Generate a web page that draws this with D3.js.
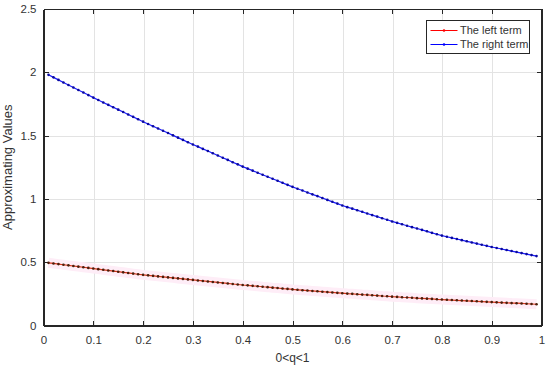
<!DOCTYPE html>
<html>
<head>
<meta charset="utf-8">
<title>Approximating Values</title>
<script src="https://cdn.jsdelivr.net/npm/d3@7/dist/d3.min.js"></script>
<style>
body { margin: 0; background: #fff; }
text { font-family: "Liberation Sans", Arial, sans-serif; fill: #333; }
.axis path, .axis line { stroke: #262626; shape-rendering: crispEdges; }
.grid line { stroke: #e3e3e3; shape-rendering: crispEdges; }
</style>
</head>
<body>
<script>

// q values 0.01 .. 0.99
var qValues = d3.range(1, 100).map(function(i) { return i / 100; });

var leftTerm = [
  0.495,0.490,0.485,0.480,0.475,0.470,0.465,0.460,0.455,0.450,
  0.445,0.440,0.435,0.430,0.425,0.420,0.415,0.410,0.405,0.400,
  0.396,0.392,0.388,0.384,0.380,0.376,0.372,0.368,0.364,0.360,
  0.356,0.352,0.348,0.344,0.340,0.336,0.332,0.328,0.324,0.320,
  0.317,0.313,0.310,0.306,0.303,0.299,0.296,0.292,0.289,0.285,
  0.282,0.279,0.276,0.273,0.270,0.267,0.264,0.261,0.258,0.255,
  0.252,0.250,0.247,0.244,0.242,0.239,0.236,0.233,0.231,0.228,
  0.226,0.223,0.221,0.219,0.216,0.214,0.212,0.210,0.207,0.205,
  0.203,0.201,0.199,0.197,0.195,0.193,0.191,0.189,0.187,0.185,
  0.183,0.181,0.179,0.177,0.176,0.174,0.172,0.170,0.168
];

var rightTerm = [
  1.980,1.960,1.940,1.920,1.900,1.880,1.860,1.840,1.820,1.800,
  1.781,1.762,1.743,1.724,1.705,1.686,1.667,1.648,1.629,1.610,
  1.592,1.574,1.556,1.538,1.520,1.502,1.484,1.466,1.448,1.430,
  1.413,1.395,1.378,1.360,1.343,1.325,1.308,1.290,1.273,1.255,
  1.239,1.223,1.207,1.191,1.175,1.159,1.143,1.127,1.111,1.095,
  1.080,1.066,1.051,1.036,1.022,1.007,0.992,0.977,0.963,0.948,
  0.935,0.923,0.910,0.898,0.885,0.872,0.860,0.847,0.835,0.822,
  0.811,0.800,0.788,0.777,0.766,0.755,0.744,0.732,0.721,0.710,
  0.701,0.692,0.683,0.674,0.665,0.656,0.647,0.638,0.629,0.620,
  0.612,0.604,0.596,0.588,0.580,0.572,0.564,0.556,0.548
];

var xTicks = [0, 0.1, 0.2, 0.3, 0.4, 0.5, 0.6, 0.7, 0.8, 0.9, 1];
var yTicks = [0, 0.5, 1, 1.5, 2, 2.5];
var seriesNames = ["The left term", "The right term"];

var margin = {top: 9, right: 8.5, bottom: 43.5, left: 43.5}
  , width = 550 - margin.left - margin.right
  , height = 369 - margin.top - margin.bottom;

var svg = d3.select("body").append("svg")
    .attr("width", 550)
    .attr("height", 369)
  .append("g")
    .attr("transform", "translate(" + margin.left + "," + margin.top + ")");

var x = d3.scaleLinear().domain([0, 1]).range([0, width]);
var y = d3.scaleLinear().domain([0, 2.5]).range([height, 0]);

// grid
svg.append("g").attr("class", "grid")
    .selectAll("line").data(xTicks).enter().append("line")
    .attr("x1", function(d) { return Math.round(x(d)) + 0.5; })
    .attr("x2", function(d) { return Math.round(x(d)) + 0.5; })
    .attr("y1", 0).attr("y2", height);
svg.append("g").attr("class", "grid")
    .selectAll("line").data(yTicks).enter().append("line")
    .attr("y1", function(d) { return Math.round(y(d)) + 0.5; })
    .attr("y2", function(d) { return Math.round(y(d)) + 0.5; })
    .attr("x1", 0).attr("x2", width);

// axes, ticks pointing inward like matlab
var fmt = function(d) { return d3.format("")(d); };
svg.append("g").attr("class", "axis")
    .attr("transform", "translate(0," + height + ")")
    .call(d3.axisBottom(x).tickValues(xTicks).tickFormat(fmt).tickSizeInner(-5).tickSizeOuter(0).tickPadding(10))
    .selectAll("text").style("font-size", "11.5px");
svg.append("g").attr("class", "axis")
    .call(d3.axisTop(x).tickValues(xTicks).tickFormat("").tickSizeInner(-5).tickSizeOuter(0));
svg.append("g").attr("class", "axis")
    .call(d3.axisLeft(y).tickValues(yTicks).tickFormat(fmt).tickSizeInner(-5).tickSizeOuter(0).tickPadding(7))
    .selectAll("text").style("font-size", "11.5px");
svg.append("g").attr("class", "axis")
    .attr("transform", "translate(" + width + ",0)")
    .call(d3.axisRight(y).tickValues(yTicks).tickFormat("").tickSizeInner(-5).tickSizeOuter(0));
svg.selectAll(".axis .domain").attr("stroke-width", 1.2);

// axis labels
svg.append("text")
    .attr("x", width / 2).attr("y", height + 36)
    .attr("text-anchor", "middle")
    .style("font-size", "12px")
    .text("0<q<1");
svg.append("text")
    .attr("transform", "rotate(-90)")
    .attr("x", -(y(1.25))).attr("y", -32)
    .attr("text-anchor", "middle")
    .style("font-size", "13px")
    .text("Approximating Values");

var leftData = qValues.map(function(q, i) { return {q: q, v: leftTerm[i]}; });
var rightData = qValues.map(function(q, i) { return {q: q, v: rightTerm[i]}; });

var line = d3.line()
    .x(function(d) { return x(d.q); })
    .y(function(d) { return y(d.v); });

// faint pink halo around the red curve
svg.append("path").datum(leftData)
    .attr("d", line)
    .attr("fill", "none")
    .attr("stroke", "#feedf7")
    .attr("stroke-width", 10);

svg.append("path").datum(leftData)
    .attr("d", line)
    .attr("fill", "none")
    .attr("stroke", "#d8361a")
    .attr("stroke-width", 1.2);
svg.append("g").selectAll("circle").data(leftData).enter().append("circle")
    .attr("cx", function(d) { return x(d.q); })
    .attr("cy", function(d) { return y(d.v); })
    .attr("r", 1.3)
    .attr("fill", "#4a1d0a");

svg.append("path").datum(rightData)
    .attr("d", line)
    .attr("fill", "none")
    .attr("stroke", "#1a1aff")
    .attr("stroke-width", 1.2);
svg.append("g").selectAll("circle").data(rightData).enter().append("circle")
    .attr("cx", function(d) { return x(d.q); })
    .attr("cy", function(d) { return y(d.v); })
    .attr("r", 1.3)
    .attr("fill", "#0a0a9a");

// legend
var legend = svg.append("g")
    .attr("transform", "translate(" + (426.5 - margin.left) + "," + (20.5 - margin.top) + ")");
legend.append("rect")
    .attr("width", 103).attr("height", 33)
    .attr("fill", "#fff")
    .attr("stroke", "#262626");
var colors = ["#ff0000", "#0000ff"];
seriesNames.forEach(function(name, i) {
    var row = legend.append("g").attr("transform", "translate(0," + (10 + i * 14) + ")");
    row.append("line").attr("x1", 4).attr("x2", 31)
        .attr("stroke", colors[i]).attr("stroke-width", 1);
    row.append("circle").attr("cx", 17.5).attr("r", 1.3).attr("fill", colors[i]);
    row.append("text").attr("x", 33.5).attr("dy", "0.35em")
        .style("font-size", "11px").text(name);
});

</script>
</body>
</html>
